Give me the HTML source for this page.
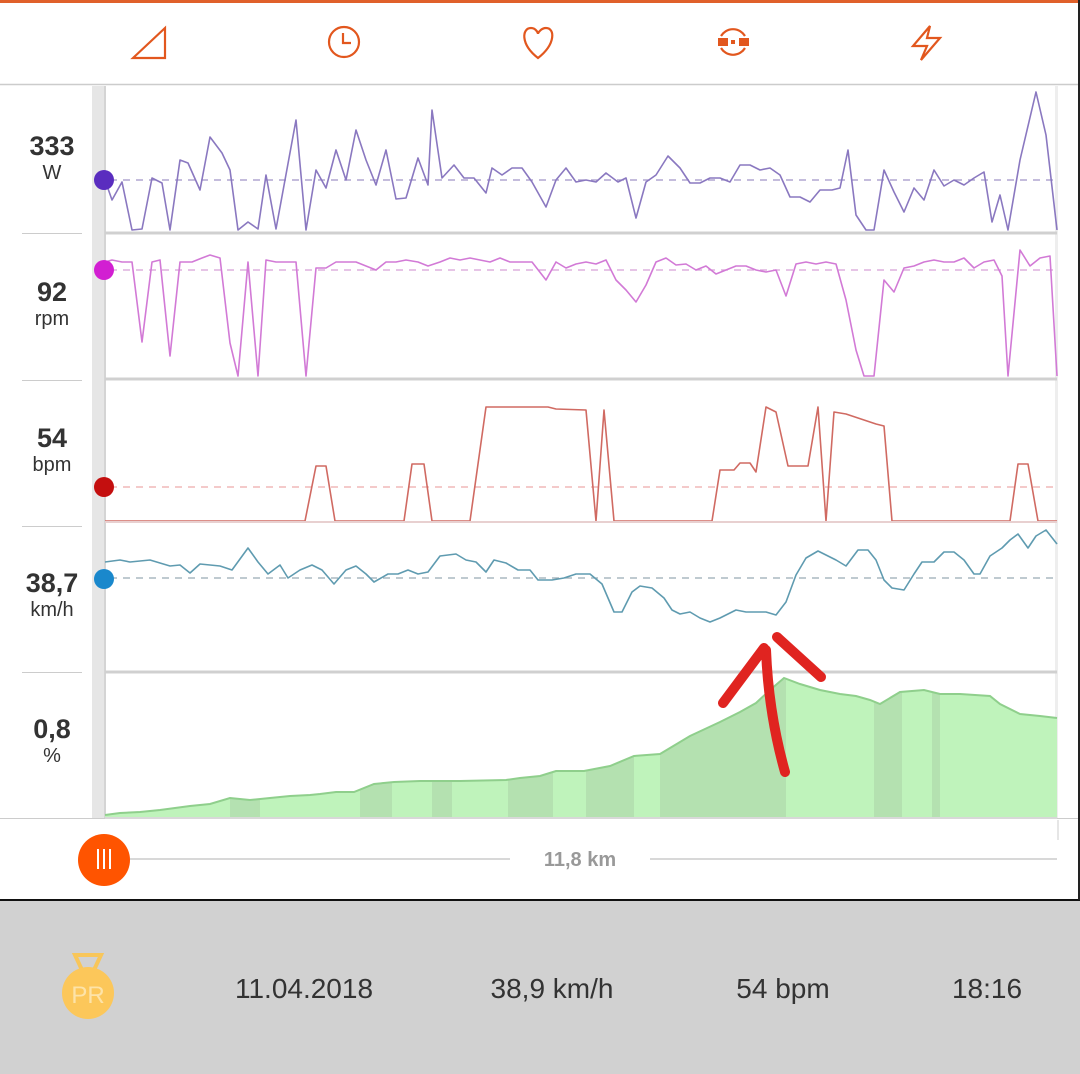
<!DOCTYPE html>
<html><head><meta charset="utf-8"><style>
html,body{margin:0;padding:0;background:#fff;}
body{width:1080px;height:1074px;overflow:hidden;position:relative;font-family:"Liberation Sans",sans-serif;}
.lab{position:absolute;left:2px;width:100px;text-align:center;color:#333;}
.v{font-weight:bold;font-size:27px;}
.u{font-size:20px;}
.b{position:absolute;top:973px;font-size:28px;color:#333;text-align:center;width:240px;}
</style></head><body>
<svg width="1080" height="1074" style="position:absolute;left:0;top:0">
<defs><clipPath id="el"><polygon points="105,817 105,815 120,813 140,812 160,810 175,808 190,806 210,804 230,798 250,800 270,798 290,796 310,795 320,794 336,792 354,792 374,784 394,782 420,781 460,781 506,780 520,778 540,776 556,771 584,771 610,766 634,756 660,754 690,736 720,722 740,712 756,703 770,690 784,678 800,684 820,690 840,694 856,696 870,700 880,704 900,692 924,690 940,694 960,694 990,696 1000,704 1020,714 1040,716 1057,718 1057,817"/></clipPath></defs>
<rect x="0" y="0" width="1080" height="3" fill="#e0602a"/>
<line x1="0" y1="84.5" x2="1080" y2="84.5" stroke="#ccc" stroke-width="1.5"/>
<g fill="none" stroke="#e2571e" stroke-width="2.2">
<path d="M133,58 L165,28 L165,58 Z"/>
<circle cx="344" cy="42" r="15"/><path d="M343,33 V43 H351"/>
<path d="M538,58 C520,44 522,28 531,28 C536,28 538,33 538,34 C538,33 541,28 546,28 C555,28 556,44 538,58Z"/>
<path d="M721,36 A14,14 0 0 1 745,36 M745,48 A14,14 0 0 1 721,48"/>
<path d="M930,26 L913,46 H927 L921,60 L940,38 H927 Z"/>
</g>
<rect x="718" y="38" width="10" height="8" fill="#e2571e"/><rect x="739" y="38" width="10" height="8" fill="#e2571e"/><rect x="731" y="40" width="4" height="4" fill="#e2571e"/>
<rect x="92" y="86" width="12" height="732" fill="#e6e6e6"/>
<rect x="104" y="86" width="2" height="732" fill="#d4d4d4"/>
<rect x="1055" y="86" width="3" height="732" fill="#eee"/>
<g stroke="#d0d0d0" stroke-width="3"><line x1="105" y1="233" x2="1057" y2="233"/><line x1="105" y1="379" x2="1057" y2="379"/><line x1="105" y1="672" x2="1057" y2="672"/></g>
<g stroke="#ccc" stroke-width="1"><line x1="22" y1="233.5" x2="82" y2="233.5"/><line x1="22" y1="380.5" x2="82" y2="380.5"/><line x1="22" y1="526.5" x2="82" y2="526.5"/><line x1="22" y1="672.5" x2="82" y2="672.5"/><line x1="0" y1="818.5" x2="1080" y2="818.5"/></g>
<g stroke-dasharray="7,6" stroke-width="1.2">
<line x1="110" y1="180" x2="1057" y2="180" stroke="#a093c8"/>
<line x1="110" y1="270" x2="1057" y2="270" stroke="#d8a0d8"/>
<line x1="110" y1="487" x2="1057" y2="487" stroke="#eaa"/>
<line x1="110" y1="578" x2="1057" y2="578" stroke="#99aab4"/>
</g>
<rect x="105" y="670" width="952" height="150" fill="#bff3bb" clip-path="url(#el)"/>
<g fill="#9cb89a" opacity="0.3" clip-path="url(#el)"><rect x="230" y="670" width="30" height="150"/><rect x="360" y="670" width="32" height="150"/><rect x="432" y="670" width="20" height="150"/><rect x="508" y="670" width="45" height="150"/><rect x="586" y="670" width="48" height="150"/><rect x="660" y="670" width="90" height="150"/><rect x="750" y="670" width="36" height="150"/><rect x="874" y="670" width="28" height="150"/><rect x="932" y="670" width="8" height="150"/></g>
<polyline fill="none" stroke="#8fcf8c" stroke-width="2" points="105,815 120,813 140,812 160,810 175,808 190,806 210,804 230,798 250,800 270,798 290,796 310,795 320,794 336,792 354,792 374,784 394,782 420,781 460,781 506,780 520,778 540,776 556,771 584,771 610,766 634,756 660,754 690,736 720,722 740,712 756,703 770,690 784,678 800,684 820,690 840,694 856,696 870,700 880,704 900,692 924,690 940,694 960,694 990,696 1000,704 1020,714 1040,716 1057,718"/>
<rect x="105" y="817" width="952" height="2" fill="#d8d8d8"/>
<g fill="none" stroke-width="1.6" stroke-linejoin="round">
<polyline stroke="#8a78c0" points="105,180 112,200 122,182 132,230 142,229 152,178 162,183 170,230 180,160 188,163 200,190 210,137 222,153 230,170 238,230 248,222 258,229 266,175 276,229 296,120 306,230 316,170 326,188 336,150 346,180 356,130 366,160 376,185 386,150 396,199 406,198 418,158 428,185 432,110 442,178 454,165 464,178 474,178 486,193 492,168 502,175 512,168 522,168 532,182 546,207 556,180 566,168 576,182 586,180 596,182 606,173 618,182 626,178 636,218 646,182 656,175 668,156 680,168 690,183 700,183 710,178 720,178 730,182 740,165 750,165 760,170 770,168 780,175 790,197 800,197 810,202 820,190 832,190 840,188 848,150 856,215 866,230 874,230 884,170 894,192 904,212 914,188 924,200 934,170 944,186 954,180 964,185 974,178 984,172 992,222 1000,195 1008,230 1020,160 1036,92 1046,135 1057,230"/>
<polyline stroke="#d27ad6" points="105,262 112,260 122,262 132,262 142,342 152,262 160,260 170,356 180,262 192,262 202,258 210,255 220,258 230,343 238,376 248,262 258,376 266,260 276,262 296,262 306,376 316,268 326,268 336,262 346,262 356,262 366,266 376,270 386,262 396,262 406,260 418,262 428,266 440,262 450,258 460,260 470,258 480,260 490,262 500,258 510,262 520,262 532,262 546,280 556,262 566,268 576,264 586,262 596,264 606,260 616,280 626,290 636,302 646,285 656,262 666,258 676,265 686,264 696,270 706,266 716,274 726,270 736,266 746,266 756,270 766,272 776,270 786,296 796,264 806,262 816,264 826,262 836,264 846,300 856,350 864,376 874,376 884,280 894,292 904,268 914,266 924,262 934,260 944,262 954,262 964,258 974,268 984,262 994,260 1002,276 1008,376 1020,250 1030,266 1040,258 1050,256 1057,376"/>
<polyline stroke="#d06a62" points="105,521 305,521 316,466 326,466 335,521 404,521 412,464 424,464 432,521 470,521 486,407 548,407 556,409 586,410 596,521 604,410 614,521 712,521 720,470 734,470 740,463 750,463 756,472 766,407 776,412 788,466 808,466 818,407 826,521 834,412 846,414 876,424 884,426 892,521 1010,521 1018,464 1028,464 1038,521 1057,521"/>
<polyline stroke="#5f9bb0" points="105,562 120,560 130,562 150,560 170,566 180,565 190,573 200,564 220,566 232,570 248,548 258,562 268,574 280,565 288,578 300,570 312,565 322,570 334,584 346,570 356,566 366,574 374,582 388,574 398,574 408,570 418,574 428,572 440,556 456,554 466,560 476,562 486,572 494,560 506,563 518,570 530,570 538,580 552,580 564,578 576,574 590,574 602,584 614,612 622,612 632,592 640,586 652,588 664,598 672,610 680,614 690,612 700,618 710,622 720,618 736,610 746,612 756,612 766,612 776,615 786,602 796,575 806,558 818,551 828,556 836,560 846,566 858,550 868,550 876,560 884,580 892,588 904,590 914,574 922,562 934,562 944,552 954,552 964,560 974,574 980,574 990,556 1002,548 1010,540 1018,534 1028,548 1036,536 1046,530 1057,544"/>
</g>
<line x1="105" y1="522" x2="1057" y2="522" stroke="#e8d0d0" stroke-width="2"/>
<circle cx="104" cy="180" r="10" fill="#5a2dbf"/>
<circle cx="104" cy="270" r="10" fill="#d21fd2"/>
<circle cx="104" cy="487" r="10" fill="#c40f0f"/>
<circle cx="104" cy="579" r="10" fill="#1a88cc"/>
<g fill="none" stroke="#e02420" stroke-width="10" stroke-linecap="round">
<path d="M785,772 C776,740 768,700 766,650"/>
<path d="M723,703 L764,648"/>
<path d="M777,637 L821,677"/>
</g>
<line x1="130" y1="859" x2="510" y2="859" stroke="#ccc" stroke-width="1.5"/>
<line x1="650" y1="859" x2="1057" y2="859" stroke="#ccc" stroke-width="1.5"/>
<line x1="1058" y1="820" x2="1058" y2="840" stroke="#ccc"/>
<circle cx="104" cy="860" r="26" fill="#ff5400"/>
<g stroke="#fff" stroke-width="2"><line x1="98" y1="849" x2="98" y2="869"/><line x1="104" y1="849" x2="104" y2="869"/><line x1="110" y1="849" x2="110" y2="869"/></g>
<text x="580" y="866" font-family="Liberation Sans" font-weight="bold" font-size="20" fill="#999" text-anchor="middle">11,8 km</text>
<rect x="0" y="901" width="1080" height="173" fill="#d1d1d1"/>
<line x1="0" y1="900" x2="1080" y2="900" stroke="#111" stroke-width="2"/>
<line x1="1079" y1="0" x2="1079" y2="900" stroke="#222" stroke-width="2"/>
<path d="M75,955 L101,955 L94,970 L82,970 Z" fill="none" stroke="#f8c65a" stroke-width="4"/>
<circle cx="88" cy="993" r="26" fill="#fcc75a"/>
<text x="88" y="1003" font-family="Liberation Sans" font-size="24" fill="#fde3a8" text-anchor="middle">PR</text>
</svg>
<div class="lab" style="top:131px"><div class="v">333</div><div class="u">W</div></div>
<div class="lab" style="top:277px"><div class="v">92</div><div class="u">rpm</div></div>
<div class="lab" style="top:423px"><div class="v">54</div><div class="u">bpm</div></div>
<div class="lab" style="top:568px"><div class="v">38,7</div><div class="u">km/h</div></div>
<div class="lab" style="top:714px"><div class="v">0,8</div><div class="u">%</div></div>
<div class="b" style="left:184px">11.04.2018</div>
<div class="b" style="left:432px">38,9 km/h</div>
<div class="b" style="left:663px">54 bpm</div>
<div class="b" style="left:867px">18:16</div>
</body></html>
